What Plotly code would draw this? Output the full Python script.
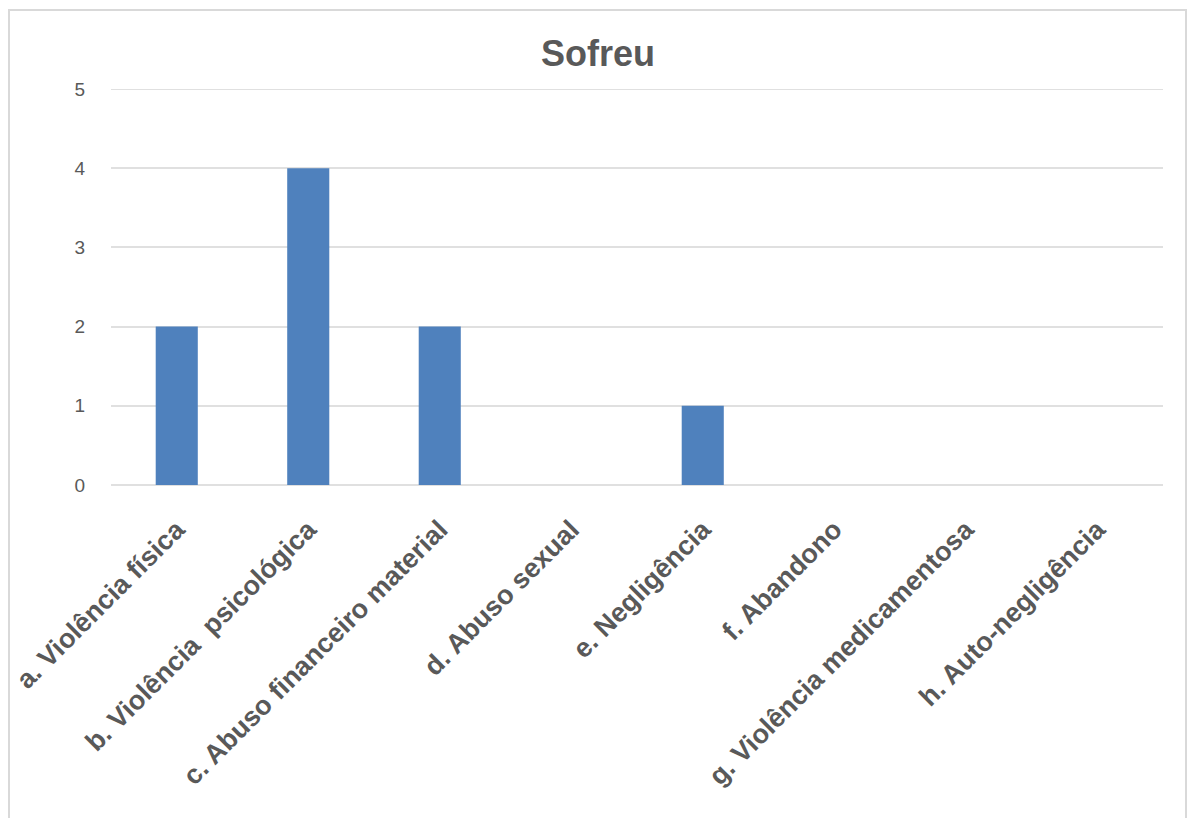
import plotly.graph_objects as go

categories = [
    "a. Violência física",
    "b. Violência  psicológica",
    "c. Abuso financeiro material",
    "d. Abuso sexual",
    "e. Negligência",
    "f. Abandono",
    "g. Violência medicamentosa",
    "h. Auto-negligência",
]
values = [2, 4, 2, 0, 1, 0, 0, 0]
y_ticks = [0, 1, 2, 3, 4, 5]

fig = go.Figure()
fig.add_trace(go.Bar(
    x=categories, y=values,
    marker=dict(color="#4F81BD", line=dict(width=0)),
    width=0.32,
))

L, R, T, B = 111, 25, 89, 333
W, H = 1188, 818
pw, ph = W - L - R, H - T - B
FONT = "Liberation Sans, Arial, sans-serif"
GRID = "#E0E0E0"

fig.update_layout(
    width=W, height=H,
    margin=dict(l=L, r=R, t=T, b=B, pad=0, autoexpand=False),
    paper_bgcolor="white", plot_bgcolor="white",
    showlegend=False,
    title=dict(text="<b>Sofreu</b>", x=598 / W, xanchor="center",
               y=1 - 53 / H, yanchor="middle",
               font=dict(family=FONT, size=36, color="#595959")),
    font=dict(family=FONT, color="#595959"),
    xaxis=dict(
        automargin=False,
        tickangle=-45,
        tickfont=dict(size=27, color="#595959", family=FONT, weight="bold"),
        showgrid=False, showline=False, zeroline=False,
        ticks="outside", ticklen=17, tickcolor="rgba(0,0,0,0)",
    ),
    yaxis=dict(
        automargin=False,
        range=[0, max(y_ticks)], tickvals=y_ticks,
        showgrid=True, gridcolor=GRID, gridwidth=2,
        zeroline=True, zerolinecolor=GRID, zerolinewidth=2,
        showline=False, ticks="outside", ticklen=21, tickcolor="rgba(0,0,0,0)",
        tickfont=dict(size=19, color="#595959", family=FONT),
    ),
    shapes=[
        dict(type="rect", xref="paper", yref="paper",
             x0=(9 - L) / pw, x1=(1186 - L) / pw,
             y0=(T + ph - 830) / ph, y1=1 + (T - 10) / ph,
             line=dict(color="#D9D9D9", width=2), layer="below"),
        dict(type="line", xref="paper", yref="y",
             x0=0, x1=1, y0=max(y_ticks), y1=max(y_ticks),
             line=dict(color=GRID, width=2), layer="below"),
    ],
)

fig.write_html("out.html")
